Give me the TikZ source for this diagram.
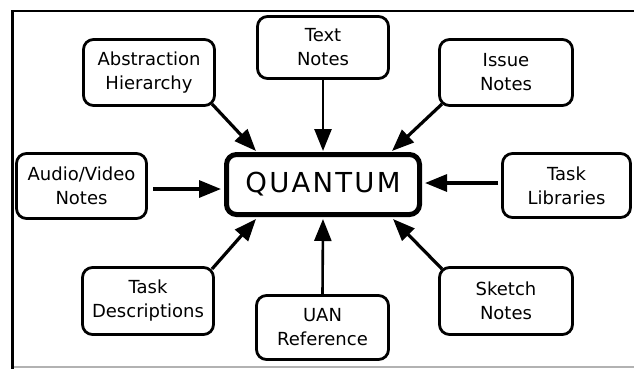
\documentclass[tikz,border=0pt]{standalone}
\usepackage{fontspec}
\setmainfont{DejaVu Sans}
\usetikzlibrary{arrows.meta}
\tikzset{
  box/.style={draw=black, line width=2.8pt, rounded corners=10pt, fill=white,
    align=center, font=\fontsize{18}{24}\selectfont, inner sep=0pt},
  bigbox/.style={draw=black, line width=5pt, rounded corners=10pt, fill=white,
    font=\fontsize{27.5}{30}\selectfont\addfontfeatures{LetterSpace=8}, inner sep=0pt},
  arr/.style={line width=3.2pt, -{Triangle[length=22pt,width=17pt]}},
  varr/.style={arr, line width=2.6pt},
  frame/.style={line width=2.8pt, line cap=rect}
}
\begin{document}
\begin{tikzpicture}[x=1pt,y=-1pt]
\useasboundingbox (0,0) rectangle (634,368);
% frame
\coordinate (ftl) at (12.5,11);
\coordinate (ftr) at (640,11);
\coordinate (fbl) at (12.5,370);
\draw[frame] (ftr) -- (ftl) -- (fbl);
\coordinate (gbl) at (14,367);
\coordinate (gbr) at (634,367);
\draw[line width=2pt, gray!60] (gbl) -- (gbr);
% arrow ends
\coordinate (tabs) at (256,151);
\coordinate (ttxt) at (323,151);
\coordinate (tiss) at (392,151);
\coordinate (avs) at (153,189);
\coordinate (tav) at (221,189);
\coordinate (libs) at (498,183);
\coordinate (tlib) at (425,183);
\coordinate (tdesc) at (256,219);
\coordinate (tuan) at (323,219);
\coordinate (tsk) at (393,219);
\coordinate (sabs) at (212,104);
\coordinate (siss) at (442,104);
\coordinate (sdesc) at (212,269);
\coordinate (ssk) at (442,269);
% nodes
\node[bigbox, minimum width=193pt, minimum height=60pt] (q) at (323,184.5) {QUANTUM};
\node[box, minimum width=131pt, minimum height=66pt] (abs) at (149,72.5) {Abstraction\\Hierarchy};
\node[box, minimum width=131pt, minimum height=62pt] (txt) at (323,47.5) {Text\\Notes};
\node[box, minimum width=133pt, minimum height=66pt] (iss) at (506,72.5) {Issue\\Notes};
\node[box, minimum width=130pt, minimum height=65pt] (av) at (81.5,186) {Audio/Video\\Notes};
\node[box, minimum width=128pt, minimum height=64pt] (lib) at (566.5,185.5) {Task\\Libraries};
\node[box, minimum width=131pt, minimum height=67pt] (desc) at (148,301) {Task\\Descriptions};
\node[box, minimum width=132pt, minimum height=64pt] (uan) at (322.5,327.5) {UAN\\Reference};
\node[box, minimum width=133pt, minimum height=67pt] (sk) at (506,301) {Sketch\\Notes};
% connectors
\draw[arr] (sabs) -- (tabs);
\draw[varr] (txt.south) -- (ttxt);
\draw[arr] (siss) -- (tiss);
\draw[arr] (avs) -- (tav);
\draw[arr] (libs) -- (tlib);
\draw[arr] (sdesc) -- (tdesc);
\draw[varr] (uan.north) -- (tuan);
\draw[arr] (ssk) -- (tsk);
\end{tikzpicture}
\end{document}
